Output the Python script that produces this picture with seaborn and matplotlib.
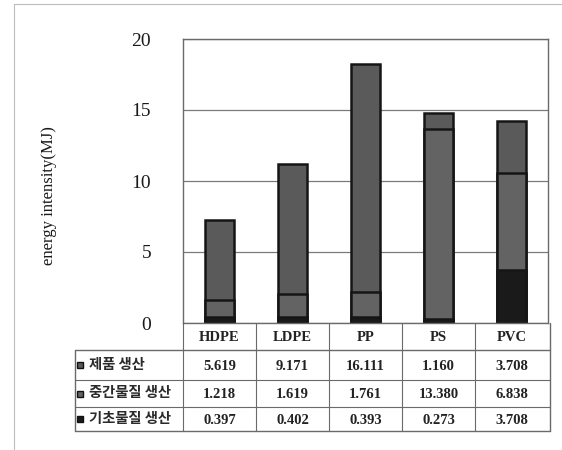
import numpy as np
import pandas as pd
import matplotlib
matplotlib.use("Agg")
import matplotlib.pyplot as plt
import seaborn as sns
from matplotlib.patches import Rectangle
from matplotlib.lines import Line2D

# data
categories = ["HDPE", "LDPE", "PP", "PS", "PVC"]
product = [5.619, 9.171, 16.111, 1.160, 3.708]       # 제품 생산
intermediate = [1.218, 1.619, 1.761, 13.380, 6.838]  # 중간물질 생산
basic = [0.397, 0.402, 0.393, 0.273, 3.708]          # 기초물질 생산
row_labels = ["제품 생산", "중간물질 생산", "기초물질 생산"]
y_ticks = [0, 5, 10, 15, 20]

colors = ["#5a5a5a", "#636363", "#1a1a1a"]

sns.set_style("white")
plt.rcParams["font.family"] = ["Liberation Serif", "Noto Sans CJK KR"]

W, H = 562, 450
fig = plt.figure(figsize=(W / 100, H / 100), dpi=100)


def fx(px):
    return px / W


def fy(py):
    return 1 - py / H


# outer frame of the scanned figure
fig.add_artist(Line2D([fx(14), fx(14)], [fy(4), 0], color="#bdbdbd", lw=0.8))
fig.add_artist(Line2D([fx(14), 1], [fy(4), fy(4)], color="#bdbdbd", lw=0.8))

ax_l, ax_r, ax_t, ax_b = 183, 548, 39, 323
ax = fig.add_axes([fx(ax_l), fy(ax_b), fx(ax_r - ax_l), (ax_b - ax_t) / H])

df = pd.DataFrame({"cat": categories, "product": product,
                   "intermediate": intermediate, "basic": basic})
df["mid_top"] = df["basic"] + df["intermediate"]
df["total"] = df["mid_top"] + df["product"]

for col, c in zip(["total", "mid_top", "basic"], colors):
    sns.barplot(data=df, x="cat", y=col, color=c, width=0.41,
                edgecolor="#151515", linewidth=1.8, saturation=1, ax=ax)

ax.set_ylim(0, 20)
ax.set_xlim(-0.5, len(categories) - 0.5)
ax.set_yticks(y_ticks)
ax.set_yticklabels([str(t) for t in y_ticks], fontsize=14, color="#1a1a1a")
ax.tick_params(axis="y", length=0, pad=23)
ax.set_xticks([])
ax.set_xlabel("")
ax.set_ylabel("energy intensity(MJ)", fontsize=12, color="#1a1a1a")
ax.yaxis.set_label_coords(-0.345, 0.45)
ax.yaxis.grid(True, color="#7a7a7a", lw=0.9)
ax.set_axisbelow(True)
for s in ax.spines.values():
    s.set_color("#6a6a6a")
    s.set_linewidth(1.0)

# data table below the axes
tab_l, tab_r = 75, 550
col_w = (ax_r - ax_l) / len(categories)
rows_y = [323, 350, 380, 407, 431]
lc = "#6a6a6a"

tax = fig.add_axes([0, 0, 1, 1], facecolor="none")
tax.set_xlim(0, W)
tax.set_ylim(H, 0)
tax.axis("off")

tax.plot([tab_l, tab_r], [rows_y[1]] * 2, color=lc, lw=1.0)
tax.plot([tab_l, tab_r], [rows_y[2]] * 2, color=lc, lw=0.8)
tax.plot([tab_l, tab_r], [rows_y[3]] * 2, color=lc, lw=0.8)
tax.plot([tab_l, tab_r], [rows_y[4]] * 2, color=lc, lw=1.0)
tax.plot([tab_l, tab_l], [rows_y[1], rows_y[4]], color=lc, lw=1.0)
tax.plot([tab_r, tab_r], [rows_y[0], rows_y[4]], color=lc, lw=1.0)
for i in range(len(categories)):
    x = ax_l + col_w * i
    tax.plot([x, x], [rows_y[0], rows_y[4]], color=lc, lw=0.8)

for i, cat in enumerate(categories):
    cx = ax_l + col_w * (i + 0.5)
    tax.text(cx, (rows_y[0] + rows_y[1]) / 2 + 1, cat, ha="center", va="center",
             fontsize=10.5, fontweight="bold", color="#222222")

table_vals = [product, intermediate, basic]
for r, (lab, vals, c) in enumerate(zip(row_labels, table_vals, colors)):
    cy = (rows_y[r + 1] + rows_y[r + 2]) / 2
    tax.add_patch(Rectangle((77, cy - 3), 6, 6, facecolor=c,
                            edgecolor="#111111", lw=1.0))
    tax.text(89, cy, lab, ha="left", va="center", fontsize=10.3,
             fontweight="bold", family=["Noto Sans CJK KR"], color="#2a2a2a")
    for i, v in enumerate(vals):
        cx = ax_l + col_w * (i + 0.5)
        tax.text(cx, cy + 1, f"{v:.3f}", ha="center", va="center",
                 fontsize=10.5, fontweight="bold", color="#222222")

fig.savefig("out.png", dpi=100)
